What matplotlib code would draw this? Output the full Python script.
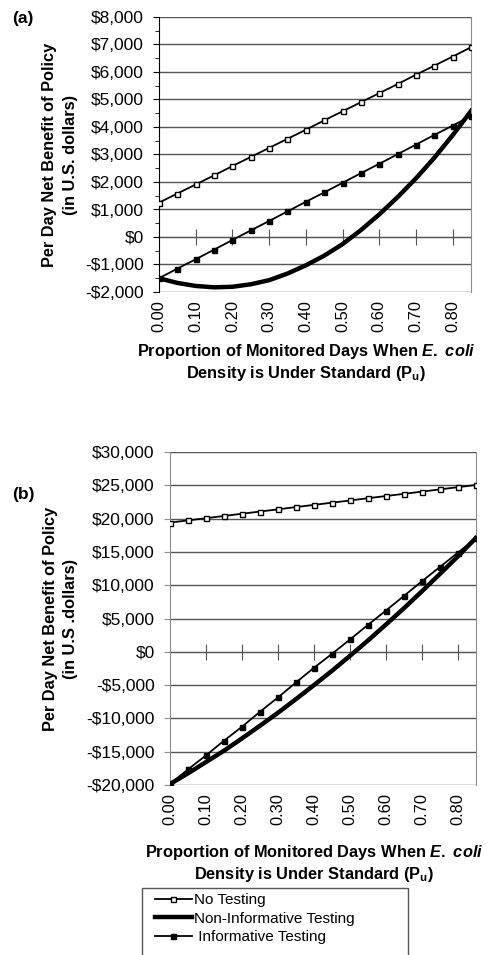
import numpy as np
import matplotlib
matplotlib.use("Agg")
from matplotlib import pyplot as plt
from matplotlib.ticker import FuncFormatter, MultipleLocator, FixedLocator
from matplotlib.lines import Line2D
from matplotlib.patches import Rectangle

plt.rcParams['font.family'] = ['Liberation Sans', 'DejaVu Sans']
plt.rcParams['mathtext.fontset'] = 'custom'
plt.rcParams['mathtext.it'] = 'Liberation Sans:italic:bold'
plt.rcParams['mathtext.rm'] = 'Liberation Sans:bold'
plt.rcParams['mathtext.bf'] = 'Liberation Sans:bold'

# proportion of monitored days under standard (Pu)
pu = [0.00, 0.05, 0.10, 0.15, 0.20, 0.25, 0.30, 0.35, 0.40,
      0.45, 0.50, 0.55, 0.60, 0.65, 0.70, 0.75, 0.80, 0.85]
xtick_vals = [0.00, 0.10, 0.20, 0.30, 0.40, 0.50, 0.60, 0.70, 0.80]

# panel (a)
a_no_test = [1250, 1580, 1910, 2240, 2580, 2910, 3240, 3570, 3900,
             4240, 4570, 4900, 5230, 5560, 5900, 6230, 6560, 6900]
a_non_inf = [-1500, -1670, -1780, -1830, -1810, -1720, -1570, -1330, -1030,
             -680, -260, 250, 820, 1450, 2130, 2880, 3700, 4580]
a_inf = [-1500, -1150, -810, -460, -110, 240, 580, 930, 1280,
         1620, 1970, 2320, 2660, 3010, 3360, 3710, 4050, 4400]

# panel (b)
b_no_test = [19400, 19730, 20060, 20400, 20730, 21060, 21390, 21730, 22060,
             22390, 22720, 23060, 23390, 23720, 24050, 24390, 24720, 25050]
b_non_inf = [-19850, -18250, -16550, -14850, -13000, -11100, -9150, -7100, -5000,
             -2850, -600, 1700, 4100, 6550, 9100, 11700, 14350, 17100]
b_inf = [-19850, -17650, -15550, -13350, -11250, -9000, -6850, -4600, -2400,
         -300, 1850, 4050, 6200, 8400, 10600, 12750, 14900, 17050]

labels = ["No Testing", "Non-Informative Testing", " Informative Testing"]

YTICK_FS = 12.5
XTICK_FS = 11.8
LABEL_FS = 11.8


def money(v, pos):
    if v < 0:
        return "-${:,.0f}".format(-v)
    return "${:,.0f}".format(v)


def draw(ax, no_test, non_inf, inf, ylim, ystep, axcol, gridcol, ylabel, minor,
         xlab_pos, ylab_x):
    ax.plot(pu, no_test, color='black', lw=1.3, marker='s', ms=3.6,
            mfc='white', mec='black', mew=1.0, zorder=4)
    ax.plot(pu, non_inf, color='black', lw=3.2, zorder=3)
    ax.plot(pu, inf, color='black', lw=1.3, marker='s', ms=3.6,
            mfc='black', mec='black', zorder=4)
    ax.set_xlim(0, 0.85)
    ax.set_ylim(*ylim)
    ax.yaxis.set_major_locator(MultipleLocator(ystep))
    ax.yaxis.set_major_formatter(FuncFormatter(money))
    if minor:
        ax.yaxis.set_minor_locator(MultipleLocator(ystep / 2))
        ax.tick_params(axis='y', which='minor', length=3, color=axcol)
    ax.grid(axis='y', color=gridcol, lw=1.0)
    ax.set_axisbelow(True)
    ax.xaxis.set_major_locator(FixedLocator(xtick_vals))
    ax.set_xticklabels(["{:.2f}".format(v) for v in xtick_vals], rotation=90)
    ax.tick_params(axis='x', length=0, labelsize=XTICK_FS, pad=6)
    ax.tick_params(axis='y', which='major', length=4, color=axcol,
                   labelsize=YTICK_FS, pad=7)
    ax.spines['left'].set_color(axcol)
    ax.spines['right'].set_color('#8c8c8c')
    ax.spines['top'].set_visible(False)
    ax.spines['bottom'].set_visible(False)
    # category axis crossing at $0
    zero_pos = (0 - ylim[0]) / (ylim[1] - ylim[0])
    sec = ax.secondary_xaxis(zero_pos)
    sec.xaxis.set_major_locator(FixedLocator(xtick_vals[1:]))
    sec.tick_params(axis='x', direction='inout', length=12, color='#555555',
                    labelbottom=False, labeltop=False)
    sec.spines['top'].set_color(gridcol)
    sec.spines['bottom'].set_color(gridcol)
    ax.set_ylabel(ylabel, fontsize=LABEL_FS, fontweight='bold', linespacing=1.45)
    ax.yaxis.set_label_coords(ylab_x, 0.5)
    ax.set_xlabel("Proportion of Monitored Days When $\\it{E.\\ coli}$\n"
                  "Density is Under Standard (P$_\\mathrm{u}$)",
                  fontsize=LABEL_FS, fontweight='bold')
    ax.xaxis.set_label_coords(*xlab_pos)


fig = plt.figure(figsize=(4.9, 9.55), dpi=100)

ax1 = fig.add_axes([159 / 490, 1 - 292 / 955, 312 / 490, 275 / 955])
draw(ax1, a_no_test, a_non_inf, a_inf, (-2000, 8000), 1000, 'black', '#555555',
     "Per Day Net Benefit of Policy\n(in U.S. dollars)", True,
     (0.471, -0.182), -0.26)

ax2 = fig.add_axes([170 / 490, 1 - 785 / 955, 306 / 490, 333 / 955])
draw(ax2, b_no_test, b_non_inf, b_inf, (-20000, 30000), 5000, '#8c8c8c', '#555555',
     "Per Day Net Benefit of Policy\n(in U.S .dollars)", False,
     (0.47, -0.174), -0.30)

fig.text(12 / 490, 1 - 19 / 955, "(a)", fontsize=12.5, fontweight='bold', va='center')
fig.text(12 / 490, 1 - 494 / 955, "(b)", fontsize=12.5, fontweight='bold', va='center')

# legend box (bottom edge runs off the figure)
fig.patches.append(Rectangle((142 / 490, -10 / 955), 266 / 490, (955 + 10 - 888) / 955,
                             transform=fig.transFigure, fill=False,
                             edgecolor='#555555', lw=1.0))

handles = [
    Line2D([], [], color='black', lw=1.3, marker='s', ms=3.6, mfc='white', mec='black'),
    Line2D([], [], color='black', lw=3.2),
    Line2D([], [], color='black', lw=1.3, marker='s', ms=3.6, mfc='black', mec='black'),
]
leg = fig.legend(handles, labels, loc='upper left',
                 bbox_to_anchor=(155 / 490, 1 - 893 / 955),
                 fontsize=11, frameon=False, handlelength=2.4, handletextpad=0.15,
                 labelspacing=0.3, borderpad=0, borderaxespad=0)

fig.savefig("out.png", dpi=100)
